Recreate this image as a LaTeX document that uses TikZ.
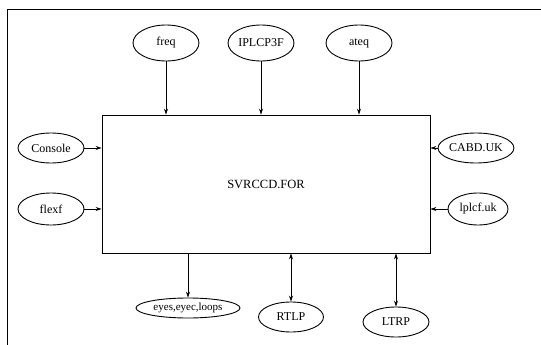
\documentclass[tikz,border=0pt]{standalone}
\usepackage{fontspec}
\setmainfont{Liberation Serif}
\usetikzlibrary{shapes.geometric,arrows.meta}
\begin{document}
\begin{tikzpicture}[x=1pt,y=-1pt,
  ell/.style={draw,ellipse,line width=0.9pt,minimum width=#1,inner sep=0pt,font=\fontsize{12}{14}\selectfont},
  ell/.default=66pt,
  arr/.style={line width=0.7pt,-{Stealth[length=6pt,width=4pt]}},
  darr/.style={line width=0.7pt,{Stealth[length=6pt,width=4pt]}-{Stealth[length=6pt,width=4pt]}}]
\useasboundingbox (0,0) rectangle (541,345);
\draw[line width=0.9pt] (7,345) -- (7,9) -- (541,9);
\node[draw,line width=0.9pt,minimum width=328pt,minimum height=138pt,inner sep=0pt,font=\fontsize{12.5}{14}\selectfont] (main) at (266,184) {SVRCCD.FOR};
\node[ell,minimum height=36pt] (freq) at (166,43) {freq};
\node[ell,minimum height=36pt] (ipl) at (261,43) {IPLCP3F};
\node[ell,minimum height=36pt] (ateq) at (359,43) {ateq};
\node[ell,minimum height=30pt] (console) at (51,148) {Console};
\node[ell,minimum height=32pt] (flexf) at (51,209) {flexf};
\node[ell=72pt,minimum height=30pt] (cabd) at (476,148) {CABD.UK};
\node[ell=60pt,minimum height=32pt] (lplcf) at (478,209) {lplcf.uk};
\node[ell=104pt,minimum height=20pt,font=\fontsize{11}{12}\selectfont] (eyes) at (188,308) {eyes,eyec,loops};
\node[ell=65pt,minimum height=30pt] (rtlp) at (291,317) {RTLP};
\node[ell=66pt,minimum height=30pt] (ltrp) at (396,322) {LTRP};
\draw[arr] (freq.south) -- (freq.south |- main.north);
\draw[arr] (ipl.south) -- (ipl.south |- main.north);
\draw[arr] (ateq.south) -- (ateq.south |- main.north);
\draw[arr] (console.east) -- (console.east -| main.west);
\draw[arr] (flexf.east) -- (flexf.east -| main.west);
\draw[arr] (cabd.west) -- (cabd.west -| main.east);
\draw[arr] (lplcf.west) -- (lplcf.west -| main.east);
\draw[arr] (eyes.north |- main.south) -- (eyes.north);
\draw[darr] (rtlp.north |- main.south) -- (rtlp.north);
\draw[darr] (ltrp.north |- main.south) -- (ltrp.north);
\end{tikzpicture}
\end{document}
